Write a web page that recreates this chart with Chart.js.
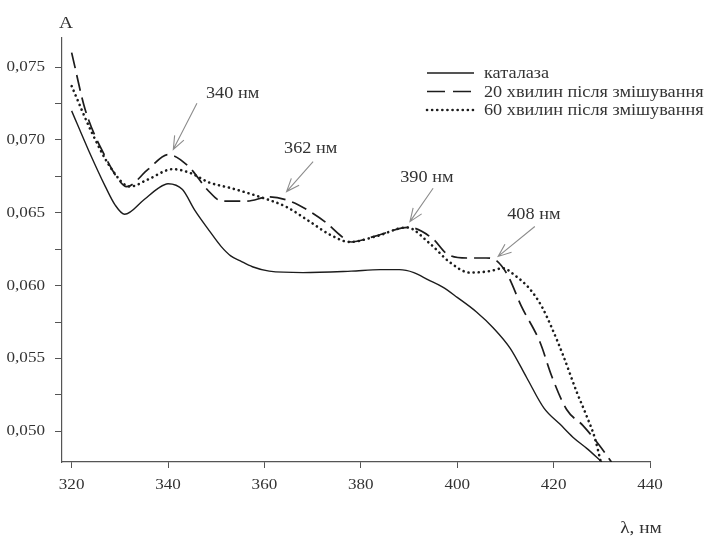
<!doctype html>
<html lang="uk">
<head>
<meta charset="utf-8">
<title>Спектр каталази</title>
<script src="https://cdn.jsdelivr.net/npm/chart.js@4.4.1/dist/chart.umd.min.js"></script>
<style>
  * { margin: 0; padding: 0; }
  body { background: #fff; }
</style>
</head>
<body>
<canvas id="spectrum" width="712" height="536"></canvas>
<script>
// назви кривих
const seriesLabels = ['каталаза', '20 хвилин після змішування', '60 хвилин після змішування'];

// каталаза (суцільна)
const catalaseNm = [320, 323.5, 327, 329, 331, 335, 338, 340, 343, 345.5, 348.5, 351, 353, 355, 357.5, 361, 368, 378, 384, 388, 391, 394, 397, 400, 404, 407.5, 411, 414.4, 418, 421.3, 424, 427, 430];
const catalaseA  = [0.0720, 0.0693, 0.0668, 0.06555, 0.0649, 0.0659, 0.0667, 0.0670, 0.0666, 0.0652, 0.0638, 0.0627, 0.06205, 0.0617, 0.0613, 0.0610, 0.0609, 0.0610, 0.0611, 0.0611, 0.0609, 0.0604, 0.0599, 0.0592, 0.0582, 0.0571, 0.0557, 0.0537, 0.0516, 0.0505, 0.0496, 0.0488, 0.0479];

// 20 хвилин (штрихова)
const min20Nm = [320, 322.8, 326.9, 329.7, 331.4, 335.9, 340, 344.2, 348.4, 351.2, 356.3, 361, 365.3, 369.4, 372.9, 375.6, 378, 383, 390, 395, 397.8, 402, 406, 408.2, 410.5, 413.3, 417.2, 419.6, 422.7, 426.1, 429.6, 432];
const min20A  = [0.0760, 0.0721, 0.0689, 0.0673, 0.0668, 0.0680, 0.0690, 0.0682, 0.0665, 0.0658, 0.0658, 0.0661, 0.0658, 0.0651, 0.0643, 0.0635, 0.0630, 0.0634, 0.0640, 0.0632, 0.0622, 0.0619, 0.0619, 0.0617, 0.0607, 0.0586, 0.0561, 0.0538, 0.0515, 0.0504, 0.0490, 0.0479];

// 60 хвилин (пунктир)
const min60Nm = [320, 324.2, 328.3, 332.1, 335.9, 341, 344.9, 348.4, 353, 359, 364.6, 369.4, 373.6, 377.7, 383.3, 389.5, 394.3, 398.5, 402.6, 406.8, 409.5, 412, 415, 417.5, 419.5, 422, 424.8, 426.8, 428.6, 429.8];
const min60A  = [0.0737, 0.0705, 0.0680, 0.0668, 0.0673, 0.0680, 0.0677, 0.0671, 0.0667, 0.0661, 0.0654, 0.0644, 0.0635, 0.0630, 0.0634, 0.0640, 0.0629, 0.0616, 0.0609, 0.0610, 0.0612, 0.0607, 0.0598, 0.0586, 0.0572, 0.0552, 0.0527, 0.0511, 0.0495, 0.0479];

// осі
const xTicks = [320, 340, 360, 380, 400, 420, 440];
const yTicks = [0.0500, 0.0525, 0.0550, 0.0575, 0.0600, 0.0625, 0.0650, 0.0675, 0.0700, 0.0725, 0.0750];
const yLabelled = ['0,050', '0,055', '0,060', '0,065', '0,070', '0,075'];

// стрілки до піків (у одиницях осей)
const peakNotes = [
  { text: '340 нм', at: [353.4, 0.07315], from: [346.0, 0.07253], tip: [341.1, 0.06936] },
  { text: '362 нм', at: [369.6, 0.06938], from: [370.1, 0.06851], tip: [364.6, 0.06646] },
  { text: '390 нм', at: [393.7, 0.06740], from: [395.0, 0.06669], tip: [390.2, 0.06440] },
  { text: '408 нм', at: [415.9, 0.06486], from: [416.1, 0.06406], tip: [408.5, 0.06201] }
];

const FONT = '"Liberation Serif", "DejaVu Serif", serif';
const INK = '#1c1c1c';
const TEXT = '#333';
const STRETCH = 1.14; // шрифт в оригіналі трохи ширший

function pairs(xs, ys) { return xs.map((v, i) => ({ x: v, y: ys[i] })); }

function wideText(ctx, str, x, y, align, size) {
  ctx.save();
  ctx.font = size + 'px ' + FONT;
  ctx.fillStyle = TEXT;
  ctx.textAlign = align;
  ctx.textBaseline = 'middle';
  ctx.translate(x, y);
  ctx.scale(STRETCH, 1);
  ctx.fillText(str, 0, 0);
  ctx.restore();
}

const styles = [
  { borderWidth: 1.4, borderDash: [], borderCapStyle: 'butt' },
  { borderWidth: 1.7, borderDash: [16, 7], borderCapStyle: 'butt' },
  { borderWidth: 2.6, borderDash: [0.1, 5], borderCapStyle: 'round' }
];

const decor = {
  id: 'decor',
  afterDatasetsDraw(chart) {
    const { ctx, chartArea, scales: { x, y } } = chart;
    ctx.save();

    // підписи поділок
    xTicks.forEach(v => wideText(ctx, String(v), x.getPixelForValue(v), 485, 'center', 15));
    yLabelled.forEach(t => wideText(ctx, t, 45, y.getPixelForValue(parseFloat(t.replace(',', '.'))), 'right', 15));

    // стрілки і підписи піків
    peakNotes.forEach(n => {
      const x0 = x.getPixelForValue(n.from[0]), y0 = y.getPixelForValue(n.from[1]);
      const x1 = x.getPixelForValue(n.tip[0]), y1 = y.getPixelForValue(n.tip[1]);
      const ang = Math.atan2(y1 - y0, x1 - x0);
      ctx.strokeStyle = '#8c8c8c';
      ctx.lineWidth = 1.1;
      ctx.setLineDash([]);
      ctx.beginPath();
      ctx.moveTo(x0, y0);
      ctx.lineTo(x1, y1);
      ctx.moveTo(x1 - 14 * Math.cos(ang - 0.38), y1 - 14 * Math.sin(ang - 0.38));
      ctx.lineTo(x1, y1);
      ctx.lineTo(x1 - 14 * Math.cos(ang + 0.38), y1 - 14 * Math.sin(ang + 0.38));
      ctx.stroke();
      wideText(ctx, n.text, x.getPixelForValue(n.at[0]), y.getPixelForValue(n.at[1]), 'center', 16);
    });

    // легенда
    chart.data.datasets.forEach((ds, i) => {
      const ly = 73 + i * 18.5;
      ctx.strokeStyle = INK;
      ctx.lineWidth = ds.borderWidth;
      ctx.lineCap = ds.borderCapStyle;
      ctx.setLineDash(i === 1 ? [18, 8] : ds.borderDash);
      ctx.beginPath();
      ctx.moveTo(427, ly);
      ctx.lineTo(474, ly);
      ctx.stroke();
      ctx.setLineDash([]);
      wideText(ctx, ds.label, 484, ly + 1, 'left', 16);
    });

    // назви осей
    wideText(ctx, 'A', chartArea.left + 4, chartArea.top - 14, 'center', 17);
    wideText(ctx, 'λ, нм', 641, 529, 'center', 17);
    ctx.restore();
  }
};

new Chart(document.getElementById('spectrum'), {
  type: 'line',
  data: {
    datasets: [
      { label: seriesLabels[0], data: pairs(catalaseNm, catalaseA) },
      { label: seriesLabels[1], data: pairs(min20Nm, min20A) },
      { label: seriesLabels[2], data: pairs(min60Nm, min60A) }
    ].map((d, i) => Object.assign(d, styles[i], {
      borderColor: INK,
      pointRadius: 0,
      fill: false,
      cubicInterpolationMode: 'monotone'
    }))
  },
  options: {
    responsive: false,
    animation: false,
    layout: { padding: { top: 38, right: 62, left: 0, bottom: 0 } },
    plugins: { legend: { display: false }, tooltip: { enabled: false } },
    scales: {
      x: {
        type: 'linear',
        min: 318,
        max: 440,
        afterBuildTicks: s => { s.ticks = xTicks.map(v => ({ value: v })); },
        afterFit: s => { s.height = 74; },
        ticks: { display: false },
        grid: { drawOnChartArea: false, drawTicks: true, tickLength: 6, tickColor: '#555' },
        border: { display: true, color: '#555', width: 1.2 }
      },
      y: {
        type: 'linear',
        min: 0.0479,
        max: 0.077,
        afterBuildTicks: s => { s.ticks = yTicks.map(v => ({ value: v })); },
        afterFit: s => { s.width = 62; },
        ticks: { display: false },
        grid: { drawOnChartArea: false, drawTicks: true, tickLength: 7, tickColor: '#555' },
        border: { display: true, color: '#555', width: 1.2 }
      }
    }
  },
  plugins: [decor]
});
</script>
</body>
</html>
